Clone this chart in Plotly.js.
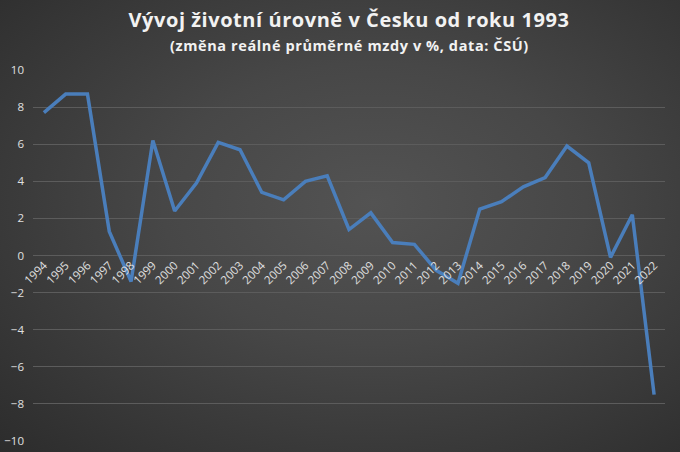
<!DOCTYPE html>
<html><head><meta charset="utf-8">
<script src="https://cdn.plot.ly/plotly-3.0.1.min.js"></script>
<style>
html,body{margin:0;padding:0;}
#chart{width:680px;height:452px;background:radial-gradient(ellipse at 55% 45%, #535353 0%, #474747 40%, #2c2c2c 100%);}
.gtitle{letter-spacing:0.55px;}
.annotation-text{letter-spacing:0.6px;}
</style></head>
<body><div id="chart"></div>
<script>
const years = ['1994','1995','1996','1997','1998','1999','2000','2001','2002','2003','2004','2005','2006','2007','2008','2009','2010','2011','2012','2013','2014','2015','2016','2017','2018','2019','2020','2021','2022'];
const realWageChange = [7.7,8.7,8.7,1.3,-1.4,6.2,2.4,3.9,6.1,5.7,3.4,3.0,4.0,4.3,1.4,2.3,0.7,0.6,-0.8,-1.5,2.5,2.9,3.7,4.2,5.9,5.0,-0.1,2.2,-7.5];
const yTicks = [-10,-8,-6,-4,-2,0,2,4,6,8,10];
const titleText = 'Vývoj životní úrovně v Česku od roku 1993';
const subtitleText = '(změna reálné průměrné mzdy v %, data: ČSÚ)';

const trace = {
  x: years, y: realWageChange, type:'scatter', mode:'lines',
  line:{color:'#4a7ebb', width:3.5}, hoverinfo:'x+y'
};
const layout = {
  width:680, height:452,
  paper_bgcolor:'rgba(0,0,0,0)', plot_bgcolor:'rgba(0,0,0,0)',
  margin:{l:33, r:15, t:70, b:11},
  font:{family:'Open Sans, sans-serif', color:'#d9d9d9', size:11},
  title:{
    text:'<b>'+titleText+'</b>',
    font:{family:'Open Sans, sans-serif', size:20, color:'#f2f2f2'},
    x:0.5, xanchor:'center', xref:'paper', y:1-20/452, yanchor:'middle', yref:'container'
  },
  annotations:[{
    text:'<b>'+subtitleText+'</b>', xref:'paper', yref:'paper', x:0.5, y:1+(70-45)/371,
    xanchor:'center', yanchor:'middle', showarrow:false,
    font:{family:'Open Sans, sans-serif', size:14.5, color:'#f2f2f2'}
  }],
  showlegend:false,
  xaxis:{
    type:'category', range:[-0.5, 28.5], anchor:'free', position:0.5,
    tickangle:-45, showgrid:false, showline:false, ticks:'',
    tickfont:{size:11.5, color:'#e0e0e0'}, zeroline:false
  },
  yaxis:{
    range:[-10,10], tickvals:yTicks, showgrid:true, gridcolor:'#5c5c5c', gridwidth:1,
    zeroline:true, zerolinecolor:'#5c5c5c', zerolinewidth:1, showline:false, ticks:'',
    tickfont:{size:11.5, color:'#e0e0e0'}, ticklabelstandoff:8
  }
};
Plotly.newPlot('chart',[trace],layout,{displayModeBar:false, staticPlot:true});
</script></body></html>
